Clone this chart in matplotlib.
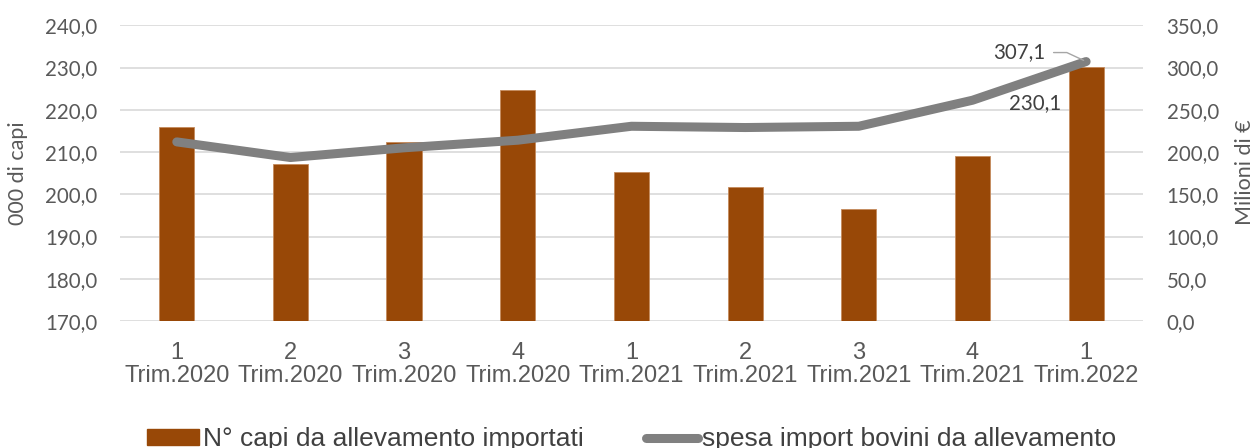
import matplotlib.pyplot as plt
from matplotlib.patches import Patch
from matplotlib.lines import Line2D
from matplotlib.ticker import FuncFormatter, MultipleLocator

# trimestri e valori
trimestri = ["1\nTrim.2020", "2\nTrim.2020", "3\nTrim.2020", "4\nTrim.2020",
             "1\nTrim.2021", "2\nTrim.2021", "3\nTrim.2021", "4\nTrim.2021",
             "1\nTrim.2022"]
capi = [216.0, 207.2, 212.3, 224.7, 205.3, 201.7, 196.6, 209.1, 230.1]
spesa = [212.0, 193.5, 205.0, 214.0, 230.5, 229.0, 230.5, 261.3, 307.1]

bar_color = "#984807"
line_color = "#808080"
grid_color = "#d9d9d9"
text_color = "#595959"
num_font = "Lato"
lab_font = "Liberation Sans"


def virgola(v, pos=None):
    return f"{v:.1f}".replace(".", ",")


fig = plt.figure(figsize=(12.56, 4.48), dpi=100)
ax = fig.add_axes([0.0955, 0.2835, 0.8145, 0.66])
ax2 = ax.twinx()

x = list(range(len(trimestri)))
ax.bar(x, capi, width=0.31, color=bar_color, edgecolor="#c58a5c", linewidth=0.6,
       zorder=2)
ax.set_ylim(170, 240)
ax.set_xlim(-0.5, len(x) - 0.5)
ax.yaxis.set_major_locator(MultipleLocator(10))
ax.yaxis.set_major_formatter(FuncFormatter(virgola))
ax.grid(axis="y", color=grid_color, linewidth=1.2, zorder=0)
ax.set_axisbelow(True)

ax2.plot(x, spesa, color=line_color, linewidth=6.5, solid_capstyle="round",
         solid_joinstyle="round", zorder=3)
ax2.set_ylim(0, 350)
ax2.yaxis.set_major_locator(MultipleLocator(50))
ax2.yaxis.set_major_formatter(FuncFormatter(virgola))

for a in (ax, ax2):
    for s in a.spines.values():
        s.set_visible(False)
    a.tick_params(length=0, colors=text_color)

ax.tick_params(axis="y", pad=16)
ax2.tick_params(axis="y", pad=17)
for t in ax.get_yticklabels() + ax2.get_yticklabels():
    t.set_fontfamily(num_font)
    t.set_fontsize(14.8)

ax.set_xticks(x)
ax.set_xticklabels(trimestri, fontfamily=lab_font, fontsize=17,
                   color=text_color, linespacing=1.05)
ax.tick_params(axis="x", pad=15)

# titoli degli assi
fig.text(18 / 1256, 1 - 173 / 448, "000 di capi", rotation=90, ha="center",
         va="center", fontfamily=num_font, fontsize=15.5, color=text_color)
fig.text(1245 / 1256, 1 - 172 / 448, "Milioni di €", rotation=90, ha="center",
         va="center", fontfamily=num_font, fontsize=15.5, color=text_color)

# etichette dei valori sull'ultimo trimestre
ax.annotate(virgola(capi[-1]), (x[-1], capi[-1]), xytext=(-51, -36),
            textcoords="offset pixels", ha="center", va="center",
            fontfamily=num_font, fontsize=14.8, color="#404040")
ax2.annotate(virgola(spesa[-1]), (x[-1], spesa[-1]), xytext=(-67, 9),
             textcoords="offset pixels", ha="center", va="center",
             fontfamily=num_font, fontsize=14.8, color="#404040",
             arrowprops=dict(arrowstyle="-", color="#a6a6a6", lw=1,
                             shrinkA=4, shrinkB=2, relpos=(1, 0.5),
                             connectionstyle="angle,angleA=0,angleB=155,rad=0"))

handles = [Patch(facecolor=bar_color, edgecolor=bar_color),
           Line2D([0], [0], color=line_color, linewidth=6.5, solid_capstyle="round")]
labels = ["N° capi da allevamento importati", "spesa import bovini da allevamento"]
fig.legend(handles, labels, loc="center", bbox_to_anchor=(0.503, 0.019), ncol=2,
           frameon=False, prop={"family": lab_font, "size": 19},
           labelcolor="#404040", handlelength=1.97, handleheight=0.53,
           handletextpad=0.15, columnspacing=2.35)

fig.savefig("out.png", dpi=100)
